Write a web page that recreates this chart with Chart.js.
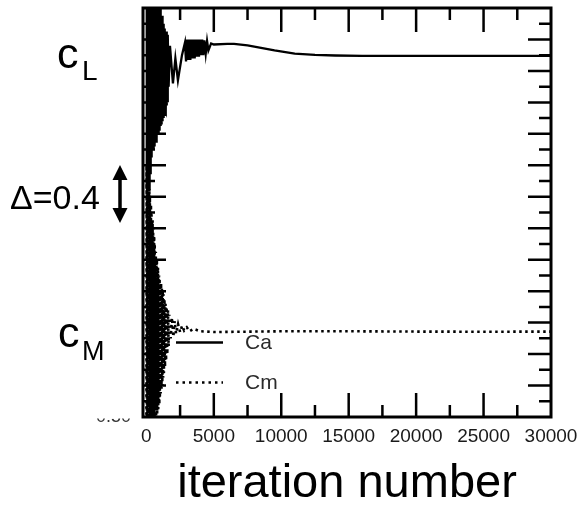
<!DOCTYPE html>
<html>
<head>
<meta charset="utf-8">
<script src="https://cdn.jsdelivr.net/npm/chart.js@4/dist/chart.umd.min.js"></script>
<style>
html,body{margin:0;padding:0;background:#fff;}
canvas{display:block;}
</style>
</head>
<body>
<canvas id="c" width="579" height="505"></canvas>
<script>
// ---- data ----
const xTickValues = [0, 5000, 10000, 15000, 20000, 25000, 30000];
const xTickLabels = ['0', '5000', '10000', '15000', '20000', '25000', '30000'];

const caIter = [
  0,20,40,60,80,100,120,140,160,180,
  200,220,240,260,280,300,320,340,360,380,
  400,420,440,460,480,500,520,540,560,580,
  600,620,640,660,680,700,720,740,760,780,
  800,820,840,860,880,900,920,940,960,980,
  1000,1020,1040,1060,1080,1100,1120,1140,1160,1180,
  1200,1220,1240,1260,1280,1300,
  1330,1360,1390,1420,1450,1480,1510,1540,1570,1600,
  1650,1750,1970,2150,2340,2640,2860,
  2940,3020,3100,3180,3260,3340,3420,3500,3580,3660,3740,3820,3900,3980,4060,4140,4220,4300,4400,4500,4600,4800,
  5000,6000,6500,7500,8500,9500,11000,12500,14000,16000,20000,25000,30000
];
const caValues = [
  1.95,3.4,1.98,3.4,2.05,3.4,2.0,3.35,2.1,3.35,
  1.95,3.35,2.15,3.3,2.05,3.3,2.1,3.3,2.2,3.3,
  2.15,3.25,2.2,3.25,2.25,3.25,2.2,3.25,2.25,3.2,
  2.22,3.2,2.28,3.2,2.3,3.2,2.25,3.2,2.32,3.15,
  2.3,3.15,2.35,3.15,2.3,3.15,2.35,3.1,2.32,3.1,
  2.38,3.1,2.35,3.1,2.38,3.05,2.36,3.05,2.4,3.05,
  2.38,3.0,2.42,3.0,2.4,3.0,
  2.42,2.97,2.45,2.95,2.44,2.95,2.48,2.93,2.5,2.93,
  2.6,2.86,2.62,2.78,2.64,2.80,2.88,
  2.76,2.9,2.77,2.9,2.77,2.9,2.78,2.9,2.78,2.9,2.79,2.9,2.79,2.9,2.8,2.9,2.8,2.895,2.81,2.89,2.83,2.875,
  2.868,2.872,2.872,2.862,2.847,2.83,2.81,2.802,2.798,2.796,2.796,2.796,2.796
];

const cmIter = [
  0,20,40,60,80,100,120,140,160,180,
  200,220,240,260,280,300,320,340,360,380,
  400,420,440,460,480,500,520,540,560,580,
  600,620,640,660,680,700,720,740,760,780,
  800,820,840,860,880,900,920,940,960,980,
  1000,1030,1060,1090,1120,1150,1180,1210,1240,1270,
  1300,1340,1380,1420,1460,1500,1550,1600,1650,1700,
  1800,1900,2000,2100,2200,2350,2500,2650,2800,3000,
  3200,3500,4000,5000,7000,10000,15000,20000,25000,30000
];
const cmValues = [
  0.4,2.1,0.4,2.05,0.4,2.1,0.42,2.0,0.4,1.95,
  0.45,1.95,0.4,1.9,0.45,1.85,0.42,1.85,0.45,1.8,
  0.4,1.75,0.48,1.75,0.45,1.7,0.5,1.65,0.45,1.65,
  0.5,1.6,0.48,1.55,0.52,1.55,0.5,1.5,0.55,1.5,
  0.52,1.45,0.58,1.45,0.55,1.4,0.6,1.4,0.58,1.38,
  0.62,1.35,0.65,1.35,0.68,1.32,0.7,1.3,0.75,1.28,
  0.78,1.25,0.82,1.22,0.86,1.2,0.9,1.18,0.95,1.15,
  1.0,1.13,1.01,1.11,1.03,1.09,1.04,1.08,1.05,1.07,
  1.045,1.06,1.045,1.04,1.042,1.045,1.045,1.043,1.042,1.043
];

const seriesNames = ['Ca', 'Cm'];
// -------------------------------------

const FONT = '"Liberation Sans", Arial, Helvetica, sans-serif';

const toPoints = (xs, ys) => xs.map((v, i) => ({x: v, y: ys[i]}));

const framePlugin = {
  id: 'frame',
  beforeDatasetsDraw(chart) {
    const {ctx, chartArea: a, scales: {x, y}} = chart;
    ctx.save();
    ctx.strokeStyle = '#000';
    ctx.lineWidth = 2.5;
    ctx.beginPath();
    for (let v = 2500; v < 30000; v += 2500) {
      const px = x.getPixelForValue(v);
      const len = v % 5000 === 0 ? 24 : 12;
      ctx.moveTo(px, a.bottom); ctx.lineTo(px, a.bottom - len);
      ctx.moveTo(px, a.top); ctx.lineTo(px, a.top + len);
    }
    for (let k = 1; k < 26; k++) {
      const py = y.getPixelForValue(0.5 + 0.1 * k);
      const len = k % 2 === 0 ? 23 : 12;
      ctx.moveTo(a.left, py); ctx.lineTo(a.left + len, py);
      ctx.moveTo(a.right, py); ctx.lineTo(a.right - len, py);
    }
    ctx.stroke();
    ctx.restore();
  },
  afterDatasetsDraw(chart) {
    const {ctx, chartArea: a, scales: {y}} = chart;
    ctx.save();
    ctx.strokeStyle = '#000';
    ctx.lineWidth = 3;
    ctx.strokeRect(a.left, a.top, a.right - a.left, a.bottom - a.top);

    // in-plot legend
    const lx0 = a.left + 33, lx1 = a.left + 80;
    ctx.lineWidth = 2.5;
    ctx.beginPath();
    ctx.moveTo(lx0, 342.5); ctx.lineTo(lx1, 342.5);
    ctx.stroke();
    ctx.setLineDash([2.5, 4]);
    ctx.beginPath();
    ctx.moveTo(lx0, 382.5); ctx.lineTo(lx1, 382.5);
    ctx.stroke();
    ctx.setLineDash([]);
    ctx.fillStyle = '#2a2a2a';
    ctx.font = '21px ' + FONT;
    ctx.textAlign = 'left';
    ctx.textBaseline = 'middle';
    ctx.fillText(seriesNames[0], a.left + 102, 343);
    ctx.fillText(seriesNames[1], a.left + 102, 383);

    // clipped remnant of bottom y label
    ctx.save();
    ctx.beginPath();
    ctx.rect(90, a.bottom + 1.5, 45, 6);
    ctx.clip();
    ctx.fillStyle = '#333';
    ctx.font = '18px ' + FONT;
    ctx.textAlign = 'right';
    ctx.textBaseline = 'middle';
    ctx.fillText('0.50', 131, y.getPixelForValue(0.5));
    ctx.restore();

    // left annotations
    ctx.fillStyle = '#000';
    ctx.textAlign = 'left';
    ctx.textBaseline = 'alphabetic';
    ctx.font = '43px ' + FONT;
    ctx.fillText('c', 57, 68);
    ctx.font = '28px ' + FONT;
    ctx.fillText('L', 82, 80);
    ctx.font = '43px ' + FONT;
    ctx.fillText('c', 58, 347);
    ctx.font = '27px ' + FONT;
    ctx.fillText('M', 82, 360);
    ctx.font = '34px ' + FONT;
    ctx.fillText('\u0394=0.4', 10, 209);

    // double arrow
    const ax = 120, top = 165, bot = 223;
    ctx.lineWidth = 3.5;
    ctx.beginPath();
    ctx.moveTo(ax, top + 10); ctx.lineTo(ax, bot - 10);
    ctx.stroke();
    ctx.beginPath();
    ctx.moveTo(ax, top); ctx.lineTo(ax - 7.5, top + 15); ctx.lineTo(ax + 7.5, top + 15); ctx.closePath();
    ctx.moveTo(ax, bot); ctx.lineTo(ax - 7.5, bot - 15); ctx.lineTo(ax + 7.5, bot - 15); ctx.closePath();
    ctx.fill();
    ctx.restore();
  }
};

new Chart(document.getElementById('c'), {
  type: 'line',
  data: {
    datasets: [
      {
        label: seriesNames[0],
        data: toPoints(caIter, caValues),
        borderColor: '#000',
        borderWidth: 2.3,
        pointRadius: 0,
        tension: 0,
        fill: false
      },
      {
        label: seriesNames[1],
        data: toPoints(cmIter, cmValues),
        borderColor: '#000',
        borderWidth: 2.6,
        borderDash: [2.5, 3.5],
        pointRadius: 0,
        tension: 0,
        fill: false
      }
    ]
  },
  options: {
    responsive: false,
    devicePixelRatio: 1,
    animation: false,
    layout: {padding: {left: 143, right: 28, top: 8, bottom: 0}},
    plugins: {legend: {display: false}, tooltip: {enabled: false}},
    scales: {
      x: {
        type: 'linear',
        min: -250,
        max: 30000,
        grid: {display: false},
        border: {display: false},
        ticks: {
          font: {size: 19, family: FONT},
          color: '#1a1a1a',
          padding: 0,
          maxRotation: 0,
          autoSkip: false,
          callback: (v) => {
            const i = xTickValues.indexOf(v);
            return i >= 0 ? xTickLabels[i] : '';
          }
        },
        afterBuildTicks: (s) => { s.ticks = xTickValues.map(v => ({value: v})); },
        afterFit: (s) => { s.height = 88; s.paddingLeft = 0; s.paddingRight = 0; },
        title: {
          display: true,
          text: 'iteration number',
          color: '#000',
          font: {size: 47, family: FONT, lineHeight: 1},
          padding: {top: 0, bottom: -3}
        }
      },
      y: {
        type: 'linear',
        min: 0.5,
        max: 3.1,
        display: false
      }
    }
  },
  plugins: [framePlugin]
});
</script>
</body>
</html>
